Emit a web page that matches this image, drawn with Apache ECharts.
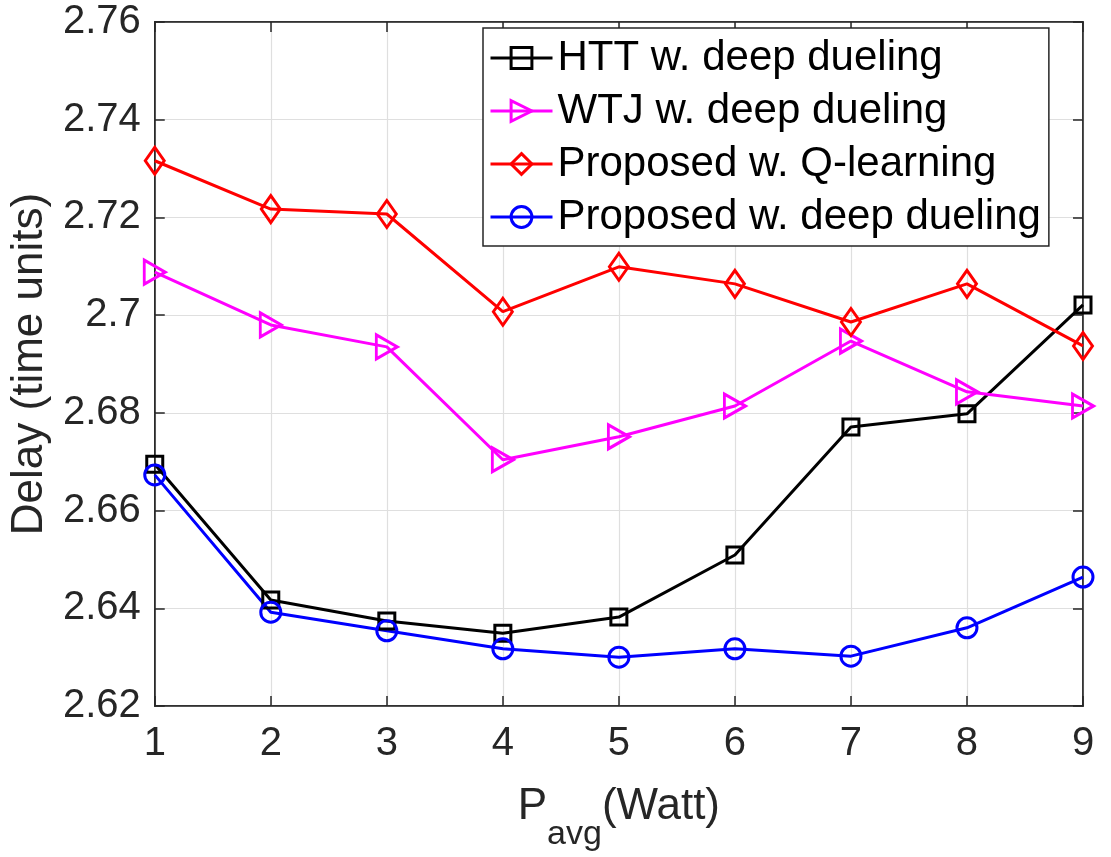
<!DOCTYPE html>
<html>
<head>
<meta charset="utf-8">
<script src="https://cdn.jsdelivr.net/npm/echarts@6/dist/echarts.min.js"></script>
<style>
  body { margin: 0; background: #fff; }
  #chart { width: 1111px; height: 857px; }
</style>
</head>
<body>
<div id="chart"></div>
<script>
// P_avg (Watt)
var power = [1, 2, 3, 4, 5, 6, 7, 8, 9]
var yTicks = [2.62, 2.64, 2.66, 2.68, 2.70, 2.72, 2.74, 2.76]

var httDueling = [2.6695, 2.6417, 2.6374, 2.6349, 2.6382, 2.6509, 2.6771, 2.6798, 2.7021]
var wtjDueling = [2.7088, 2.6980, 2.6935, 2.6704, 2.6751, 2.6814, 2.6947, 2.6843, 2.6814]
var propQLearning = [2.7316, 2.7217, 2.7207, 2.7007, 2.7099, 2.7064, 2.6986, 2.7064, 2.6937]
var propDueling = [2.6673, 2.6392, 2.6354, 2.6317, 2.6300, 2.6317, 2.6302, 2.6360, 2.6464]

var font = 'Liberation Sans, Arial, Helvetica, sans-serif'
var axisColor = '#262626'

function pairs(arr) {
  return arr.map(function (v, i) { return [power[i], v] })
}

function makeSeries(name, data, color, symbol, size, rotate) {
  return {
    name: name,
    type: 'line',
    data: pairs(data),
    symbol: symbol,
    symbolSize: size,
    symbolRotate: rotate || 0,
    showAllSymbol: true,
    clip: false,
    lineStyle: { color: color, width: 3 },
    itemStyle: { color: 'transparent', borderColor: color, borderWidth: 3 },
    emphasis: { disabled: true },
    z: 3
  }
}

var myChart = echarts.init(document.getElementById('chart'))
var option = {
  backgroundColor: '#fff',
  animation: false,
  textStyle: { fontFamily: font },
  grid: {
    left: 154,
    right: 28,
    top: 22,
    bottom: 151,
    show: true,
    borderColor: axisColor,
    borderWidth: 1.5,
    backgroundColor: '#fff'
  },
  legend: {
    orient: 'vertical',
    left: 483,
    top: 28,
    padding: [9, 8, 8, 6],
    backgroundColor: '#fff',
    borderColor: axisColor,
    borderWidth: 1.5,
    itemWidth: 62,
    itemHeight: 26,
    itemGap: 11,
    lineStyle: { width: 3 },
    itemStyle: { borderWidth: 3 },
    textStyle: { fontFamily: font, fontSize: 42, color: '#000', lineHeight: 42 },
    data: ['HTT w. deep dueling', 'WTJ w. deep dueling', 'Proposed w. Q-learning', 'Proposed w. deep dueling']
  },
  xAxis: [
    {
      type: 'value',
      min: 1,
      max: 9,
      interval: 1,
      name: '{a|P}{b|avg}{a|(Watt)}',
      nameLocation: 'middle',
      nameGap: 79,
      nameTextStyle: {
        color: axisColor,
        rich: {
          a: { fontFamily: font, fontSize: 44, color: axisColor, lineHeight: 67, verticalAlign: 'top' },
          b: { fontFamily: font, fontSize: 34, color: axisColor, verticalAlign: 'bottom' }
        }
      },
      axisLine: { show: true, lineStyle: { color: axisColor, width: 1.5 } },
      axisTick: { show: true, inside: true, length: 10, lineStyle: { color: axisColor, width: 1.5 } },
      axisLabel: { fontSize: 40, color: axisColor, margin: 18, fontFamily: font },
      splitLine: { show: true, lineStyle: { color: '#dfdfdf', width: 1.2 } }
    },
    {
      type: 'value',
      position: 'top',
      min: 1,
      max: 9,
      interval: 1,
      axisLine: { show: true, lineStyle: { color: axisColor, width: 1.5 } },
      axisTick: { show: true, inside: true, length: 10, lineStyle: { color: axisColor, width: 1.5 } },
      axisLabel: { show: false },
      splitLine: { show: false }
    }
  ],
  yAxis: [
    {
      type: 'value',
      min: yTicks[0],
      max: yTicks[yTicks.length - 1],
      interval: 0.02,
      name: 'Delay (time units)',
      nameLocation: 'middle',
      nameGap: 98,
      nameTextStyle: { fontSize: 44, color: axisColor, fontFamily: font },
      axisLine: { show: true, lineStyle: { color: axisColor, width: 1.5 } },
      axisTick: { show: true, inside: true, length: 10, lineStyle: { color: axisColor, width: 1.5 } },
      axisLabel: {
        fontSize: 40,
        color: axisColor,
        margin: 14,
        fontFamily: font,
        formatter: function (v) { return String(+v.toFixed(2)) }
      },
      splitLine: { show: true, lineStyle: { color: '#dfdfdf', width: 1.2 } }
    },
    {
      type: 'value',
      position: 'right',
      min: yTicks[0],
      max: yTicks[yTicks.length - 1],
      interval: 0.02,
      axisLine: { show: true, lineStyle: { color: axisColor, width: 1.5 } },
      axisTick: { show: true, inside: true, length: 10, lineStyle: { color: axisColor, width: 1.5 } },
      axisLabel: { show: false },
      splitLine: { show: false }
    }
  ],
  series: [
    makeSeries('HTT w. deep dueling', httDueling, '#000000', 'rect', 16),
    makeSeries('WTJ w. deep dueling', wtjDueling, '#ff00ff', 'triangle', [24, 21], -90),
    makeSeries('Proposed w. Q-learning', propQLearning, '#ff0000', 'diamond', [19, 27]),
    makeSeries('Proposed w. deep dueling', propDueling, '#0000ff', 'circle', 20)
  ]
}

option && myChart.setOption(option)
</script>
</body>
</html>
